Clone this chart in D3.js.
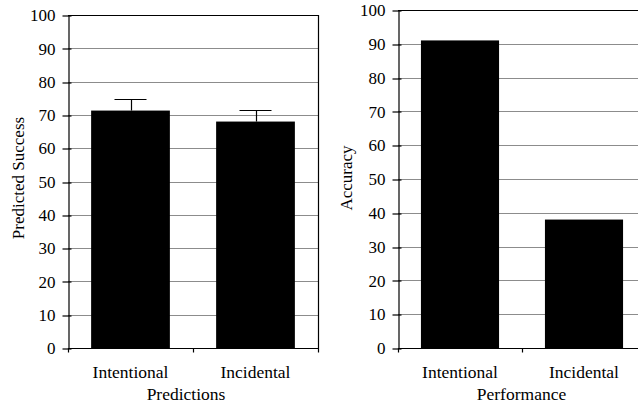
<!DOCTYPE html>
<html>
<head>
<meta charset="utf-8">
<script src="https://cdn.jsdelivr.net/npm/d3@7"></script>
<style>
  html, body { margin: 0; padding: 0; background: #fff; }
  svg { display: block; }
</style>
</head>
<body>
<script>
// Study data: predicted success vs. actual accuracy by encoding condition
const categories = ["Intentional", "Incidental"];
const predictedValues = [71.3, 68.0];
const predictedErrors = [3.4, 3.5];
const accuracyValues = [91.0, 38.0];
const yTicks = [0, 10, 20, 30, 40, 50, 60, 70, 80, 90, 100];

const SERIF = "'Times New Roman', 'Liberation Serif', 'DejaVu Serif', serif";
const W = 638, H = 405;
const svg = d3.select("body").append("svg").attr("width", W).attr("height", H)
  .style("font-family", SERIF);

function drawPanel(opts) {
  const { left, right, top, bottom, values, errors, yTitle, xTitle, yTitleX, yTitleY, xTitleX } = opts;
  const x = d3.scaleBand().domain(categories).range([left, right]).paddingInner(0.37).paddingOuter(0.185);
  const xEdge = d3.scaleBand().domain(categories).range([left, right]);
  const y = d3.scaleLinear().domain([0, 100]).range([bottom, top]);
  const g = svg.append("g");
  const crisp = v => Math.round(v) + 0.5;

  // horizontal gridlines
  g.selectAll("line.grid").data(yTicks.filter(t => t > 0 && t < 100)).join("line")
    .attr("x1", left).attr("x2", right)
    .attr("y1", d => crisp(y(d))).attr("y2", d => crisp(y(d)))
    .attr("stroke", "#8c8c8c").attr("stroke-width", 1);

  // frame: top and right edges
  g.append("line").attr("x1", left).attr("x2", right)
    .attr("y1", crisp(y(100))).attr("y2", crisp(y(100)))
    .attr("stroke", "#000").attr("stroke-width", 1.2);
  g.append("line").attr("x1", crisp(right)).attr("x2", crisp(right))
    .attr("y1", y(100)).attr("y2", y(0))
    .attr("stroke", "#000").attr("stroke-width", 1.2);

  // bars
  g.selectAll("rect.bar").data(values).join("rect")
    .attr("x", (d, i) => x(categories[i]))
    .attr("width", x.bandwidth())
    .attr("y", d => y(d))
    .attr("height", d => y(0) - y(d))
    .attr("fill", "#000");

  // upper error whiskers
  if (errors) {
    const capW = 32;
    const eb = g.selectAll("g.err").data(values).join("g");
    eb.append("line")
      .attr("x1", (d, i) => crisp(x(categories[i]) + x.bandwidth() / 2))
      .attr("x2", (d, i) => crisp(x(categories[i]) + x.bandwidth() / 2))
      .attr("y1", d => y(d)).attr("y2", (d, i) => crisp(y(d + errors[i])))
      .attr("stroke", "#000").attr("stroke-width", 1.2);
    eb.append("line")
      .attr("x1", (d, i) => x(categories[i]) + x.bandwidth() / 2 - capW / 2)
      .attr("x2", (d, i) => x(categories[i]) + x.bandwidth() / 2 + capW / 2)
      .attr("y1", (d, i) => crisp(y(d + errors[i]))).attr("y2", (d, i) => crisp(y(d + errors[i])))
      .attr("stroke", "#000").attr("stroke-width", 1.2);
  }

  // y axis
  const yAxis = g.append("g").attr("transform", `translate(${crisp(left)},0)`)
    .call(d3.axisLeft(y).tickValues(yTicks).tickSizeInner(6).tickSizeOuter(0).tickPadding(7));
  yAxis.attr("font-family", null).attr("font-size", null);
  yAxis.select(".domain").attr("stroke", "#000").attr("stroke-width", 1.2);
  yAxis.selectAll(".tick line").attr("x2", 3).attr("x1", -6).attr("stroke", "#000").attr("stroke-width", 1.2)
    .attr("transform", (d) => `translate(0,${crisp(y(d)) - y(d)})`);
  yAxis.selectAll(".tick text")
    .style("font-family", SERIF).style("font-size", "17px").attr("fill", "#000").attr("dy", "0.34em");

  // x axis
  const edges = [left, ...categories.slice(1).map(c => xEdge(c)), right];
  g.append("line").attr("x1", left).attr("x2", right)
    .attr("y1", crisp(y(0))).attr("y2", crisp(y(0)))
    .attr("stroke", "#000").attr("stroke-width", 1.2);
  g.selectAll("line.xtick").data(edges).join("line")
    .attr("x1", d => crisp(d)).attr("x2", d => crisp(d))
    .attr("y1", y(0)).attr("y2", y(0) + 4.5)
    .attr("stroke", "#000").attr("stroke-width", 1.2);
  g.selectAll("text.xlab").data(categories).join("text")
    .attr("x", d => xEdge(d) + xEdge.bandwidth() / 2)
    .attr("y", 377.5)
    .attr("text-anchor", "middle")
    .style("font-family", SERIF).style("font-size", "17.5px")
    .text(d => d);

  // axis titles
  g.append("text").attr("x", xTitleX).attr("y", 399.5)
    .attr("text-anchor", "middle")
    .style("font-family", SERIF).style("font-size", "17.5px").text(xTitle);
  g.append("text")
    .attr("transform", `translate(${yTitleX},${yTitleY}) rotate(-90)`)
    .attr("text-anchor", "middle")
    .style("font-family", SERIF).style("font-size", "17px").text(yTitle);
}

drawPanel({
  left: 68, right: 318, top: 15, bottom: 348,
  values: predictedValues, errors: predictedErrors,
  yTitle: "Predicted Success", xTitle: "Predictions",
  yTitleX: 24, yTitleY: 178, xTitleX: 186
});

drawPanel({
  left: 398, right: 646, top: 10, bottom: 348,
  values: accuracyValues, errors: null,
  yTitle: "Accuracy", xTitle: "Performance",
  yTitleX: 352, yTitleY: 178, xTitleX: 521.5
});
</script>
</body>
</html>
